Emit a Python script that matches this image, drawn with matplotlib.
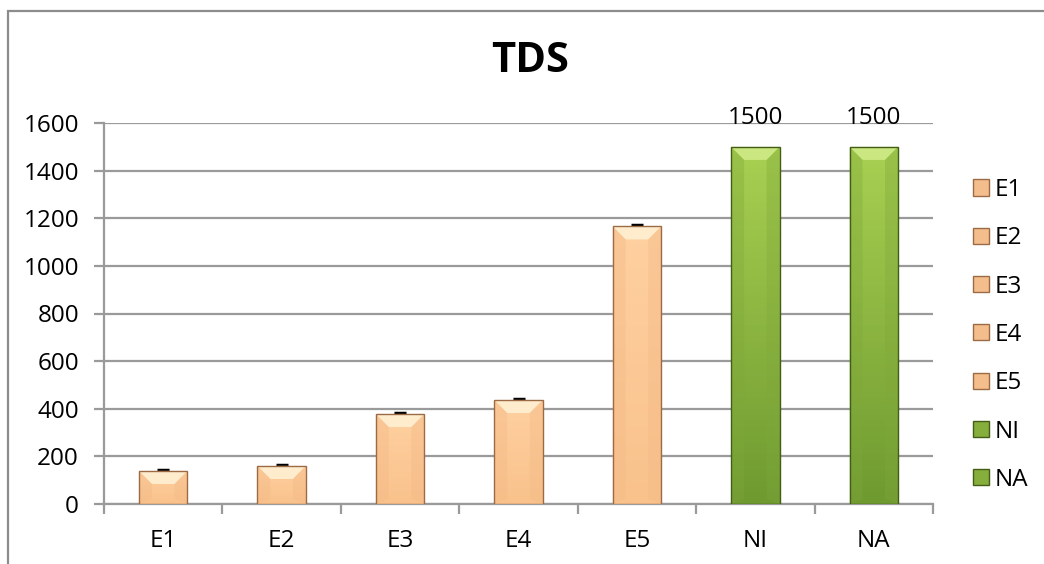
import numpy as np
import matplotlib.pyplot as plt
from matplotlib.colors import LinearSegmentedColormap
from matplotlib.patches import Patch, Polygon, Rectangle

plt.rcParams['font.family'] = ['Open Sans', 'DejaVu Sans']

categorias = ['E1', 'E2', 'E3', 'E4', 'E5', 'NI', 'NA']
tds = [139, 160, 378, 437, 1166, 1500, 1500]
errores = [5, 5, 5, 5, 5, 0, 0]
etiquetas = ['', '', '', '', '', '1500', '1500']

PEACH = dict(arriba='#FFD0A0', abajo='#F9C28C', top='#FFF2D6', side='#F2B784',
             edge='#9C6B45', leyenda='#F4BE8C')
GREEN = dict(arriba='#A8D052', abajo='#6F9A30', top='#D2EC8A', side='#7FA83A',
             edge='#435C16', leyenda='#86AE3C')
estilos = [PEACH] * 5 + [GREEN] * 2


def barra_biselada(ax, x, w, h, c, bx, by):
    x0, x1 = x - w / 2, x + w / 2
    borde = Rectangle((x0, 0), w, h, facecolor='none', edgecolor='none')
    ax.add_patch(borde)
    cmap = LinearSegmentedColormap.from_list('g', [c['abajo'], c['arriba']])
    img = ax.imshow(np.linspace(0, 1, 64).reshape(-1, 1), cmap=cmap, origin='lower',
                    extent=(x0, x1, 0, h), aspect='auto', zorder=3)
    img.set_clip_path(borde)
    by = min(by, h / 2)
    # caras del bisel
    ax.add_patch(Polygon([(x0, h), (x1, h), (x1 - bx, h - by), (x0 + bx, h - by)],
                         facecolor=c['top'], edgecolor='none', alpha=0.85, zorder=4))
    for xa, xb in [(x0, x0 + bx), (x1, x1 - bx)]:
        ax.add_patch(Polygon([(xa, 0), (xb, by * 0.4), (xb, h - by), (xa, h)],
                             facecolor=c['side'], edgecolor='none', alpha=0.35, zorder=4))
    ax.add_patch(Rectangle((x0, 0), w, h, facecolor='none', edgecolor=c['edge'],
                           lw=1.0, zorder=5))


fig = plt.figure(figsize=(10.44, 5.64), dpi=100)
ax = fig.add_axes([104 / 1044, 60 / 564, 829 / 1044, 381 / 564])

x = np.arange(len(categorias))
ancho = 0.41
for xi, v, c in zip(x, tds, estilos):
    barra_biselada(ax, xi, ancho, v, c, 0.11, 55)

ax.errorbar(x[:5], tds[:5], yerr=errores[:5], fmt='none', ecolor='black',
            elinewidth=1, capsize=4.5, capthick=2.5, zorder=2)

for xi, v, t in zip(x, tds, etiquetas):
    if t:
        ax.annotate(t, (xi, v), xytext=(0, 12), textcoords='offset points',
                    ha='center', va='bottom', fontsize=17.5, zorder=6)

ax.set_xlim(-0.5, len(categorias) - 0.5)
ax.set_ylim(0, 1600)
ax.set_yticks(np.arange(0, 1601, 200))
ax.yaxis.grid(True, color='#9a9a9a', lw=1.6)
ax.set_axisbelow(True)

ax.set_xticks(x)
ax.set_xticklabels(categorias)
ax.set_xticks(np.arange(-0.5, len(categorias), 1), minor=True)
ax.tick_params(axis='x', which='major', length=0, pad=18, labelsize=17.5)
ax.tick_params(axis='x', which='minor', length=7, width=1.6, color='#9a9a9a')
ax.tick_params(axis='y', length=7, width=1.6, color='#9a9a9a', pad=11, labelsize=17.5)

for lado in ['top', 'right']:
    ax.spines[lado].set_visible(False)
for lado in ['left', 'bottom']:
    ax.spines[lado].set_color('#9a9a9a')
    ax.spines[lado].set_linewidth(1.6)

fig.text(530 / 1044, 1 - 62 / 564, 'TDS', ha='center', va='center',
         fontsize=30, fontweight='bold')

# marco del área del gráfico
fig.patches.append(Rectangle((8 / 1044, -0.2), 1.2, 1.2 - 11 / 564,
                             transform=fig.transFigure, fill=False,
                             edgecolor='#8c8c8c', lw=1.6))

handles = [Patch(facecolor=c['leyenda'], edgecolor=c['edge'], label=n)
           for n, c in zip(categorias, estilos)]
fig.legend(handles=handles, loc='upper left', bbox_to_anchor=(973 / 1044, 1 - 178 / 564),
           frameon=False, fontsize=17.5, handlelength=0.65, handleheight=0.65,
           handletextpad=0.25, labelspacing=1.0, borderpad=0, borderaxespad=0)

fig.savefig('out.png', dpi=100)
